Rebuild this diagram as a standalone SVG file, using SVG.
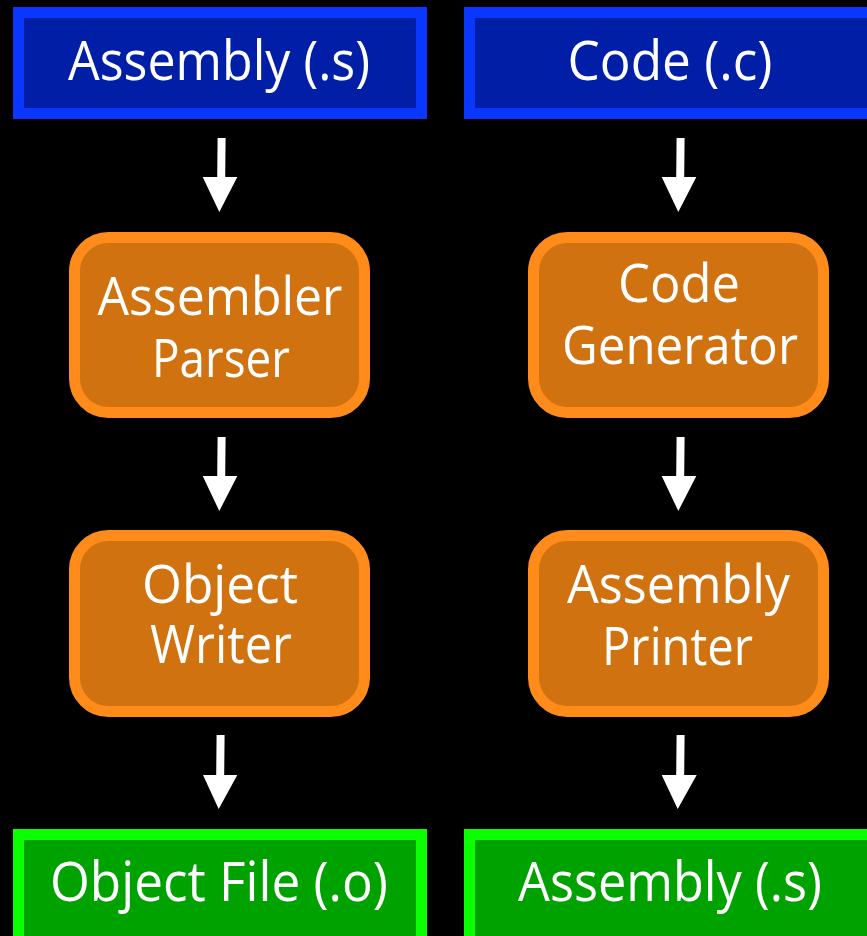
<svg xmlns="http://www.w3.org/2000/svg" width="867" height="936" viewBox="0 0 867 936">
  <style>
    .lbl { font-family: "Open Sans", "Noto Sans", "Liberation Sans", sans-serif; fill: #ffffff; text-anchor: middle; }
    .big { font-size: 55px; }
    .mid { font-size: 53px; }
    .src { fill: #001EA6; stroke: #0A37FF; stroke-width: 11; }
    .out { fill: #00A200; stroke: #0CFF00; stroke-width: 11; }
    .step { fill: #D0720F; stroke: #FF8C1A; stroke-width: 11; }
    .arrow { fill: #ffffff; }
  </style>
  <rect width="867" height="936" fill="#000000"/>

  <!-- Input files -->
  <g id="asm-input">
    <rect class="src" x="18.5" y="12.5" width="403" height="101"/>
    <text class="lbl big" x="219" y="80" textLength="302" lengthAdjust="spacingAndGlyphs">Assembly (.s)</text>
  </g>
  <g id="c-input">
    <rect class="src" x="469.5" y="12.5" width="403" height="101"/>
    <text class="lbl big" x="670" y="80" textLength="205" lengthAdjust="spacingAndGlyphs">Code (.c)</text>
  </g>

  <!-- Pipeline stages -->
  <g id="assembler-parser">
    <rect class="step" x="74.5" y="237.5" width="290" height="175" rx="34"/>
    <text class="lbl mid" x="220" y="315" textLength="245" lengthAdjust="spacingAndGlyphs">Assembler</text>
    <text class="lbl mid" x="221" y="377" textLength="138" lengthAdjust="spacingAndGlyphs">Parser</text>
  </g>
  <g id="object-writer">
    <rect class="step" x="74.5" y="535.5" width="290" height="176" rx="34"/>
    <text class="lbl mid" x="220" y="603" textLength="156" lengthAdjust="spacingAndGlyphs">Object</text>
    <text class="lbl mid" x="221" y="663" textLength="142" lengthAdjust="spacingAndGlyphs">Writer</text>
  </g>
  <g id="code-generator">
    <rect class="step" x="533.5" y="237.5" width="290" height="175" rx="34"/>
    <text class="lbl mid" x="679" y="302" textLength="122" lengthAdjust="spacingAndGlyphs">Code</text>
    <text class="lbl mid" x="680" y="364" textLength="236" lengthAdjust="spacingAndGlyphs">Generator</text>
  </g>
  <g id="assembly-printer">
    <rect class="step" x="533.5" y="535.5" width="290" height="176" rx="34"/>
    <text class="lbl mid" x="678.5" y="603" textLength="223" lengthAdjust="spacingAndGlyphs">Assembly</text>
    <text class="lbl mid" x="677.5" y="665" textLength="151" lengthAdjust="spacingAndGlyphs">Printer</text>
  </g>

  <!-- Output files -->
  <g id="object-output">
    <rect class="out" x="18.5" y="834.5" width="403" height="110"/>
    <text class="lbl big" x="219" y="901" textLength="338" lengthAdjust="spacingAndGlyphs">Object File (.o)</text>
  </g>
  <g id="asm-output">
    <rect class="out" x="469.5" y="834.5" width="403" height="110"/>
    <text class="lbl big" x="670" y="901" textLength="304" lengthAdjust="spacingAndGlyphs">Assembly (.s)</text>
  </g>

  <!-- Connectors: slightly slanted down arrows -->
  <g id="connectors">
    <polygon class="arrow" points="217.6,138 225.6,138 225.2,177 237.3,177 219.3,212 202.7,177 217.2,177"/>
    <polygon class="arrow" points="217.6,437 225.6,437 225.2,476 237.3,476 219.3,511 202.7,476 217.2,476"/>
    <polygon class="arrow" points="216.6,735 224.6,735 224.2,775 237.3,775 218.7,809 203,775 216.2,775"/>
    <polygon class="arrow" points="676.6,138 684.6,138 684.2,177 696.3,177 678.3,212 661.7,177 676.2,177"/>
    <polygon class="arrow" points="676.6,437 684.6,437 684.2,476 696.3,476 678.3,511 661.7,476 676.2,476"/>
    <polygon class="arrow" points="676.6,735 684.6,735 684.2,775 696.7,775 677.7,809 661.7,775 676.2,775"/>
  </g>
</svg>
